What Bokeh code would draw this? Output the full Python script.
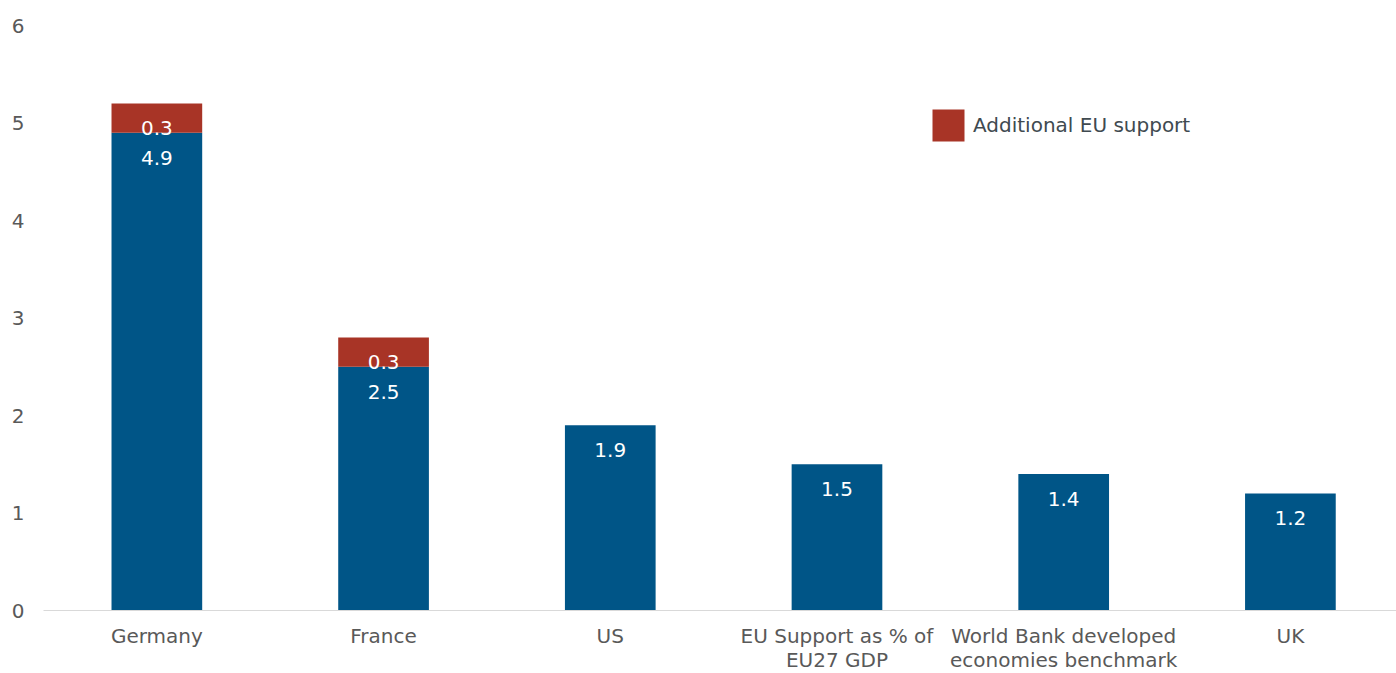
from bokeh.plotting import figure
from bokeh.models import ColumnDataSource, FixedTicker, Range1d, Legend, LegendItem
from bokeh.core.properties import value
from bokeh.embed import file_html
from bokeh.resources import INLINE

categories = ["Germany", "France", "US", "EU Support as % of\nEU27 GDP",
              "World Bank developed\neconomies benchmark", "UK"]
base_values = [4.9, 2.5, 1.9, 1.5, 1.4, 1.2]
eu_support = [0.3, 0.3, 0.0, 0.0, 0.0, 0.0]
y_ticks = [0, 1, 2, 3, 4, 5, 6]

BLUE = "#005587"
RED = "#A83426"
TXT = "#595959"
FONT = "DejaVu Sans"
FS = "20px"

xs = [i + 0.5 for i in range(len(categories))]
tops = [b + e for b, e in zip(base_values, eu_support)]

p = figure(output_backend="svg", toolbar_location=None,
           frame_width=1353, frame_height=585,
           x_range=Range1d(0, 5.968), y_range=Range1d(0, 6),
           min_border_left=43, min_border_right=0, min_border_top=25, min_border_bottom=10)
p.outline_line_color = None
p.xgrid.visible = False
p.ygrid.visible = False
p.background_fill_color = "white"
p.border_fill_color = "white"

base_src = ColumnDataSource(dict(x=xs, top=base_values,
                                 ly=[b - 0.255 for b in base_values],
                                 lbl=[f"{b:.1f}" for b in base_values]))
p.vbar(x="x", top="top", bottom=0, width=0.40, source=base_src,
       fill_color=BLUE, line_color=None)

ei = [i for i, e in enumerate(eu_support) if e > 0]
eu_src = ColumnDataSource(dict(x=[xs[i] for i in ei], bottom=[base_values[i] for i in ei],
                               top=[tops[i] for i in ei],
                               ly=[tops[i] - 0.255 for i in ei],
                               lbl=[f"{eu_support[i]:.1f}" for i in ei]))
eu_r = p.vbar(x="x", top="top", bottom="bottom", width=0.40, source=eu_src,
              fill_color=RED, line_color=None)

p.text(x="x", y="ly", text="lbl", source=base_src, text_color="white",
       text_font=value(FONT), text_font_size=FS, text_align="center",
       text_baseline="middle")
p.text(x="x", y="ly", text="lbl", source=eu_src, text_color="white",
       text_font=value(FONT), text_font_size=FS, text_align="center",
       text_baseline="middle")

# axes
p.xaxis.ticker = FixedTicker(ticks=xs)
p.xaxis.major_label_overrides = {x: c for x, c in zip(xs, categories)}
p.xaxis.major_tick_line_color = None
p.xaxis.minor_tick_line_color = None
p.xaxis.axis_line_color = "#D9D9D9"
p.xaxis.axis_line_width = 1
p.xaxis.major_label_text_font = FONT
p.xaxis.major_label_text_font_size = FS
p.xaxis.major_label_text_color = TXT
p.xaxis.major_label_text_line_height = 1.0
p.xaxis.major_label_standoff = 7

p.yaxis.ticker = FixedTicker(ticks=y_ticks)
p.yaxis.major_tick_line_color = None
p.yaxis.minor_tick_line_color = None
p.yaxis.axis_line_color = None
p.yaxis.major_label_text_font = FONT
p.yaxis.major_label_text_font_size = FS
p.yaxis.major_label_text_color = TXT
p.yaxis.major_label_standoff = 13

legend = Legend(items=[LegendItem(label="Additional EU support", renderers=[eu_r])],
                location=(885, 465), orientation="vertical",
                glyph_width=40, glyph_height=40, label_standoff=5,
                padding=0, margin=0, border_line_color=None,
                background_fill_alpha=0,
                label_text_font=FONT, label_text_font_size=FS,
                label_text_color="#404A50", label_height=40)
p.add_layout(legend, "center")

open("out.html", "w").write(file_html(p, INLINE))
